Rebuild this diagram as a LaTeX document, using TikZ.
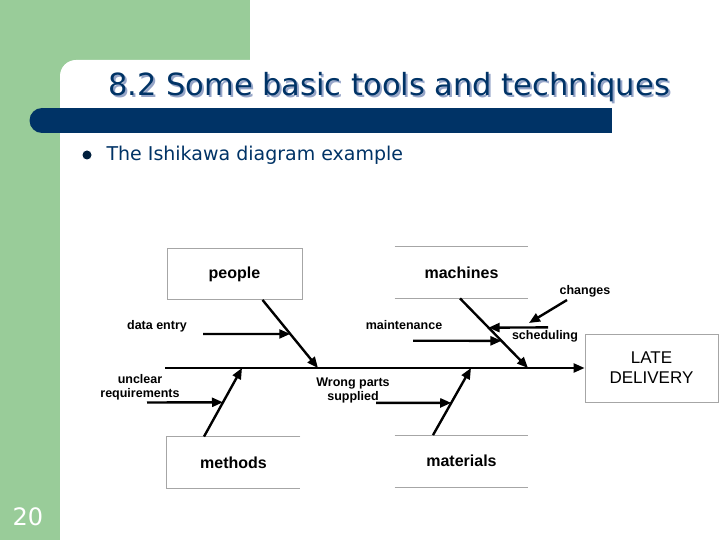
\documentclass[tikz,border=0pt]{standalone}
\usepackage{fontspec}
\setmainfont{Liberation Sans}
\newfontfamily\slidefont{DejaVu Sans}
\usepackage{tikz}
\usetikzlibrary{arrows.meta, positioning, calc}
\definecolor{slidegreen}{RGB}{153,204,153}
\definecolor{slidenavy}{RGB}{0,51,102}
\definecolor{slideshadow}{RGB}{150,165,200}
\newcommand{\shadowtext}[1]{\rlap{\hspace{2pt}\raisebox{-2pt}{\color{slideshadow}#1}}{\color{slidenavy}#1}}

\begin{document}
\begin{tikzpicture}[
    x=1pt, y=-1pt,
    box/.style={draw=gray!70, line width=0.8pt, minimum width=133pt, minimum height=51pt, font=\bfseries\fontsize{16}{18}\selectfont},
    open/.style={box, draw=none},
    lbl/.style={font=\bfseries\fontsize{12.5}{14}\selectfont, align=center, inner sep=0pt},
    bone/.style={-{Triangle[length=11pt,width=9pt]}, line width=2.4pt},
    edge/.style={draw=gray!70, line width=0.8pt}
]
\useasboundingbox (0,0) rectangle (720,540);
% slide background
\fill[white] (0,0) rectangle (720,540);
\fill[slidegreen] (0,0) rectangle (250,80);
\fill[slidegreen] (0,0) rectangle (60,540);
\fill[white, rounded corners=16pt] (60,60) rectangle (760,580);
\fill[slidenavy] (42,108) rectangle (612,133);
\fill[slidenavy] (42,120.5) circle (12.5pt);
\node[font=\slidefont\fontsize{30.5}{33}\selectfont] (title) at (389,88) {\shadowtext{8.2 Some basic tools and techniques}};
\node[circle, fill=slidenavy!60!black, inner sep=0pt, minimum size=9pt] (dot) at (87,155) {};
\node[anchor=west, text=slidenavy, font=\slidefont\fontsize{19}{21}\selectfont] (sub) at (103,155) {The Ishikawa diagram example};
\node[text=white, font=\slidefont\fontsize{24}{26}\selectfont] (pageno) at (28,517) {20};

% fishbone
\node[box, minimum width=135pt] (people) at (234.5,274) {people};
\node[open] (machines) at (461.5,272.5) {machines};
\node[open] (methods) at (233.5,462.5) {methods};
\node[open] (materials) at (461.5,461) {materials};
\node[box, minimum height=68pt, font=\fontsize{17}{20}\selectfont, align=center] (late) at (651.5,368) {LATE\\DELIVERY};
\draw[edge] (machines.north west) -- (machines.north east) (machines.south west) -- (machines.south east);
\draw[edge] (methods.north east) -- (methods.north west) -- (methods.south west) -- (methods.south east);
\draw[edge] (materials.north west) -- (materials.north east) (materials.south west) -- (materials.south east);

\coordinate (tail) at (165,368);
\draw[bone] (tail) -- (late.west);

\coordinate (ps) at ([xshift=28pt]people.south);
\coordinate (pe) at (318,368);
\coordinate (cs) at ([xshift=-1.5pt]machines.south);
\coordinate (ce) at (528,368);
\coordinate (ms) at ([xshift=-29.5pt]methods.north);
\coordinate (me) at (242,368);
\coordinate (ts) at ([xshift=-28.5pt]materials.north);
\coordinate (te) at (471,368);
\draw[bone] (ps) -- (pe);
\draw[bone] (cs) -- (ce);
\draw[bone] (ms) -- (me);
\draw[bone] (ts) -- (te);

\node[lbl] (dataentry) at (157,326) {data entry};
\node[lbl] (unclear) at (140,387) {unclear\\requirements};
\node[lbl] (wrongparts) at (353,390) {Wrong parts\\supplied};
\node[lbl] (maintenance) at (404,325) {maintenance};
\node[lbl] (scheduling) at (545,336) {scheduling};
\node[lbl] (changes) at (585,291) {changes};

\coordinate (de) at (203,334);
\coordinate (ur) at (147,402.5);
\coordinate (wp) at (376,402.8);
\coordinate (mt) at (413,340.7);
\coordinate (sc) at (548,327.4);
\coordinate (sct) at ($(cs)!.42!(ce)$);
\coordinate (ch) at (567,300);
\coordinate (cht) at (529,323);
\draw[bone] (de) -- ($(ps)!.5!(pe)$);
\draw[bone] (ur) -- ($(ms)!.5!(me)$);
\draw[bone] (wp) -- ($(ts)!.48!(te)$);
\draw[bone] (mt) -- ($(cs)!.61!(ce)$);
\draw[bone] (sc) -- (sct);
\draw[bone] (ch) -- (cht);
\end{tikzpicture}
\end{document}
